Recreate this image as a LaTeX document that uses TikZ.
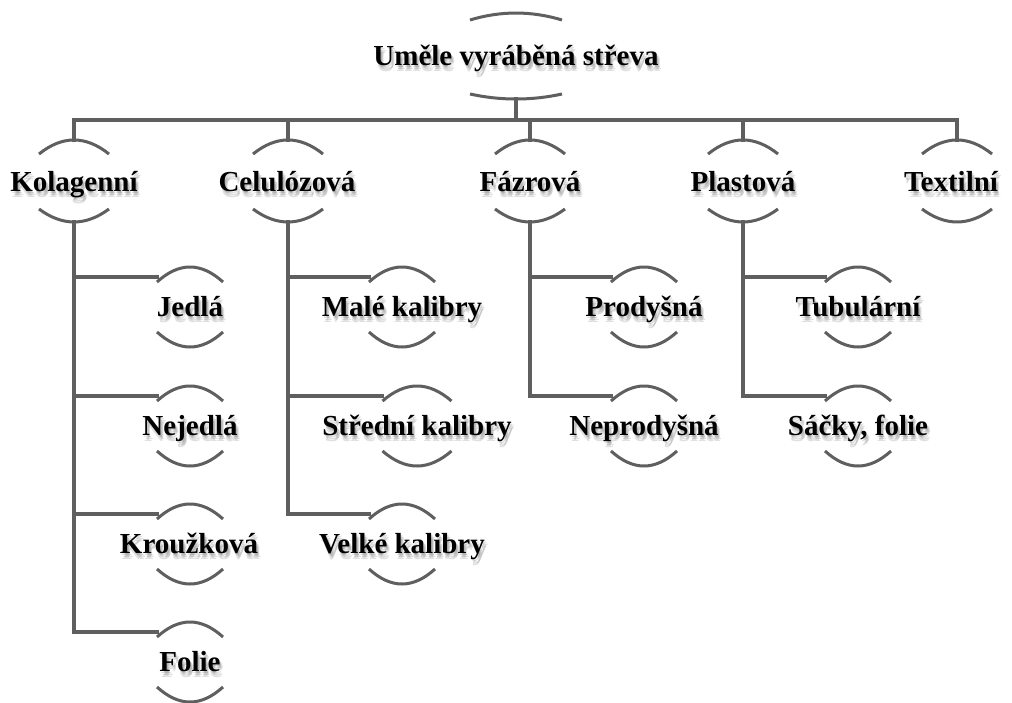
\documentclass[tikz,border=0pt]{standalone}
\usepackage{fontspec}
\setmainfont{Liberation Serif}
\definecolor{linegray}{RGB}{95,95,95}
\tikzset{
  lbl/.style={font=\bfseries\fontsize{29pt}{30pt}\selectfont, inner sep=0pt, anchor=base, text=black},
  shd/.style={lbl, text=black!60, opacity=0.2},
  arcline/.style={draw=linegray, line width=3pt},
  conn/.style={draw=linegray, line width=3.6pt, line cap=rect},
}
% #1 name, #2 x, #3 baseline y, #4 text, #5 text dx
\newcommand\hnode[5]{%
  \coordinate (#1-c) at (#2,#3);
  \node[shd] (#1-s1) at ([shift={(#5+1.5,2.5)}]#1-c) {#4};
  \node[shd] (#1-s2) at ([shift={(#5+3,4.5)}]#1-c) {#4};
  \node[shd] (#1-s3) at ([shift={(#5+2,6)}]#1-c) {#4};
  \node[lbl] (#1) at ([xshift=#5]#1-c) {#4};
}
% #1 name, #2 half width, #3 upper end dy, #4 upper ctrl dy, #5 lower end dy, #6 lower ctrl dy, #7 upper apex, #8 lower apex
\newcommand\harcs[8]{%
  \draw[arcline] ([shift={(-#2,#3)}]#1-c) coordinate (#1-ul)
     .. controls ([shift={(-#2/3,#4)}]#1-c) and ([shift={(#2/3,#4)}]#1-c) .. ([shift={(#2,#3)}]#1-c) coordinate (#1-ur);
  \draw[arcline] ([shift={(-#2,#5)}]#1-c) coordinate (#1-ll)
     .. controls ([shift={(-#2/3,#6)}]#1-c) and ([shift={(#2/3,#6)}]#1-c) .. ([shift={(#2,#5)}]#1-c) coordinate (#1-lr);
  \coordinate (#1-top) at ([shift={(0,#7)}]#1-c);
  \coordinate (#1-bot) at ([shift={(0,#8)}]#1-c);
  \coordinate (#1-in) at ([shift={(-#2,-39)}]#1-c);
}
% control = end + 4/3 (apex - end)
\newcommand\topnode[1]{\harcs{#1}{46}{-45}{-54.3}{29}{35.7}{-52}{34}}
\newcommand\lone[1]{\harcs{#1}{35}{-37}{-55.7}{18}{35.3}{-51}{31}}
\newcommand\ltwo[2]{\harcs{#1}{#2}{-34}{-54}{16}{36}{-49}{31}}
\begin{document}
\begin{tikzpicture}[x=1pt,y=-1pt]
\useasboundingbox (0,0) rectangle (1012,702);
\fill[white] (0,0) rectangle (1012,702);
% nodes
\hnode{root}{516}{65}{Uměle vyráběná střeva}{0}
\hnode{kol}{74}{191}{Kolagenní}{0}
\hnode{cel}{288}{191}{Celulózová}{-1}
\hnode{faz}{530}{191}{Fázrová}{0}
\hnode{pla}{743}{191}{Plastová}{0}
\hnode{tex}{957}{191}{Textilní}{-6}
\hnode{jed}{190}{316}{Jedlá}{0}
\hnode{nej}{190}{435}{Nejedlá}{0}
\hnode{kro}{190}{553}{Kroužková}{-1}
\hnode{fol}{190}{671}{Folie}{0}
\hnode{mal}{402}{316}{Malé kalibry}{0}
\hnode{str}{417}{435}{Střední kalibry}{0}
\hnode{vel}{402}{553}{Velké kalibry}{0}
\hnode{pro}{644}{316}{Prodyšná}{0}
\hnode{nep}{644}{435}{Neprodyšná}{0}
\hnode{tub}{858}{316}{Tubulární}{0}
\hnode{sac}{858}{435}{Sáčky, folie}{0}
% arcs
\topnode{root}
\lone{kol}\lone{cel}\lone{faz}\lone{pla}\lone{tex}
\ltwo{jed}{33}\ltwo{nej}{33}\ltwo{kro}{33}\ltwo{fol}{33}
\ltwo{mal}{33}\ltwo{str}{34.5}\ltwo{vel}{33}
\ltwo{pro}{33}\ltwo{nep}{33}
\ltwo{tub}{33}\ltwo{sac}{33}
% connectors
\coordinate (bus) at (516,120);
\draw[conn] (root-bot) -- (bus);
\draw[conn] (bus) -| (kol-top);
\draw[conn] (bus) -| (cel-top);
\draw[conn] (bus) -| (faz-top);
\draw[conn] (bus) -| (pla-top);
\draw[conn] (bus) -| (tex-top);
\foreach \p/\c in {kol/jed,kol/nej,kol/kro,kol/fol,cel/mal,cel/str,cel/vel,faz/pro,faz/nep,pla/tub,pla/sac}
  \draw[conn] (\p-bot) |- (\c-in);
\end{tikzpicture}
\end{document}
